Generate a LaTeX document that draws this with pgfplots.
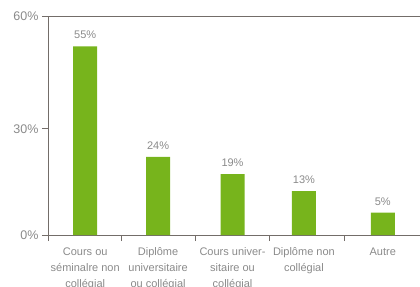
\documentclass[border=0pt]{standalone}
\usepackage{pgfplots}
\pgfplotsset{compat=1.18}
\usepackage{fontspec}
\setmainfont{Liberation Sans}
\definecolor{barg}{HTML}{77B41C}
\definecolor{axc}{HTML}{736D69}
\definecolor{txt}{HTML}{8A8A8A}
\begin{document}
\begin{tikzpicture}
\path[use as bounding box] (-48bp,-52bp) rectangle (372bp,235bp);
\begin{axis}[
  at={(0,0)}, anchor=south west,
  scale only axis, width=372bp, height=219bp,
  xmin=-0.5, xmax=4.5, ymin=0, ymax=60,
  axis x line=bottom, axis y line=left,
  axis line style={axc, line width=0.8pt, -},
  tick align=outside, major tick length=6bp,
  tick style={axc, line width=0.8pt},
  ytick={0,29.1,60}, yticklabels={0\%,30\%,60\%},
  yticklabel style={text=txt, font=\fontsize{12.5bp}{15bp}\selectfont},
  /pgf/number format/assume math mode=true,
  xtick={0,0.98,1.98,2.94,4},
  xticklabels={{Cours ou\\séminalre non\\collégial},{Diplôme\\universitaire\\ou collégial},{Cours univer-\\sitaire ou\\collégial},{Diplôme non\\collégial},{Autre}},
  xticklabel style={align=center, text=txt, font=\fontsize{11bp}{16bp}\selectfont, anchor=north, yshift=-3bp},
  xtick style={draw=none},
  extra x ticks={-0.5,0.48,1.48,2.48,3.48},
  extra x tick labels={},
  extra x tick style={xtick style={draw=axc}},
  clip=false,
  nodes near coords,
  point meta=explicit symbolic,
  nodes near coords style={anchor=south, inner sep=0pt, yshift=7bp, text=txt, font=\fontsize{11bp}{13bp}\selectfont},
]
\addplot[ybar, bar width=24bp, fill=barg, draw=none] coordinates {
  (0,51.7) [55\%]
  (0.98,21.4) [24\%]
  (1.98,16.7) [19\%]
  (2.94,12.0) [13\%]
  (4,6.1) [5\%]
};
\draw[axc, line width=0.8pt] (axis cs:-0.5,60) -- (axis cs:4.5,60);
\end{axis}
\end{tikzpicture}
\end{document}
